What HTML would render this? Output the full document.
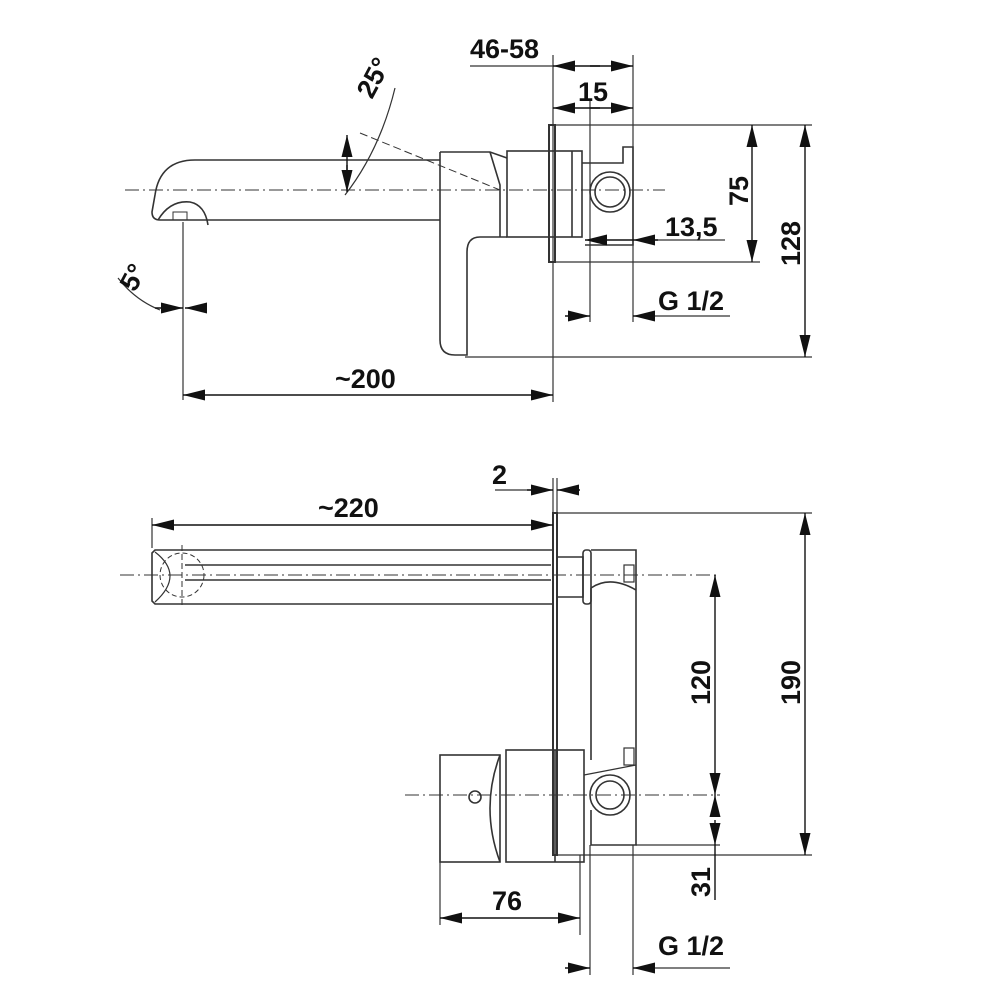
<!DOCTYPE html>
<html><head><meta charset="utf-8"><style>
html,body{margin:0;padding:0;background:#fff;}
svg{display:block}
text{font-family:"Liberation Sans",sans-serif;font-size:27px;fill:#111;font-weight:bold}
</style></head><body>
<svg width="1000" height="1000" viewBox="0 0 1000 1000">
<defs>
<marker id="a" viewBox="0 0 20 10" refX="20" refY="5" markerWidth="22" markerHeight="11" markerUnits="userSpaceOnUse" orient="auto"><path d="M0,0 L20,5 L0,10 z" fill="#111"/></marker>
</defs>
<g fill="none" stroke="#333" stroke-width="1.6">
<line x1="125" y1="190" x2="665" y2="190" stroke-dasharray="14,4,2,4" stroke-width="1"/>
<path d="M440,160 L195,160 Q160,160 155,195 L152,212 Q152,220 160,220 L440,220"/>
<path d="M158,220 Q170,200 190,202 Q205,205 208,225" />
<rect x="173" y="212" width="14" height="8" stroke-width="1"/>
<path d="M440,152 L440,340 Q440,355 455,355 L467,355 L467,252 Q467,237 480,237 L507,237"/>
<path d="M440,152 L490,152 L507,158"/>
<path d="M490,152 L500,185 L500,237"/>
<rect x="507" y="151" width="75" height="86"/>
<line x1="572" y1="151" x2="572" y2="237"/>
<rect x="549" y="125" width="6" height="137" stroke-width="2"/>
<path d="M582,163 L623,163 L623,147 L633,147 L633,245 L585,245"/>
<circle cx="610" cy="192" r="20"/><circle cx="610" cy="192" r="15"/>
<line x1="360" y1="133" x2="500" y2="190" stroke-dasharray="8,4" stroke-width="1"/>
<path d="M395,88 Q380,150 345,195" stroke-width="1.2"/>
<line x1="183" y1="222" x2="183" y2="400" stroke-width="1.2"/>
<path d="M118,278 Q135,300 160,310" stroke-width="1.2"/>
<g stroke-width="1.2">
<line x1="553" y1="55" x2="553" y2="402"/>
<line x1="633" y1="55" x2="633" y2="322"/>
<line x1="590" y1="100" x2="590" y2="322"/>
<line x1="556" y1="125" x2="812" y2="125"/>
<line x1="556" y1="262" x2="760" y2="262"/>
<line x1="465" y1="357" x2="812" y2="357"/>
<line x1="470" y1="66" x2="553" y2="66"/>
<line x1="655" y1="240" x2="725" y2="240"/>
<line x1="655" y1="316" x2="730" y2="316"/>
</g>
</g>
<g stroke="#111" stroke-width="1.4" fill="none">
<line x1="600" y1="66" x2="553" y2="66" marker-end="url(#a)"/>
<line x1="590" y1="66" x2="633" y2="66" marker-end="url(#a)"/>
<line x1="600" y1="108" x2="553" y2="108" marker-end="url(#a)"/>
<line x1="590" y1="108" x2="633" y2="108" marker-end="url(#a)"/>
<line x1="752" y1="190" x2="752" y2="125" marker-end="url(#a)"/>
<line x1="752" y1="190" x2="752" y2="262" marker-end="url(#a)"/>
<line x1="805" y1="240" x2="805" y2="125" marker-end="url(#a)"/>
<line x1="805" y1="240" x2="805" y2="357" marker-end="url(#a)"/>
<line x1="633" y1="240" x2="585" y2="240" marker-end="url(#a)"/>
<line x1="658" y1="240" x2="633" y2="240" marker-end="url(#a)"/>
<line x1="565" y1="316" x2="590" y2="316" marker-end="url(#a)"/>
<line x1="655" y1="316" x2="633" y2="316" marker-end="url(#a)"/>
<line x1="370" y1="395" x2="183" y2="395" marker-end="url(#a)"/>
<line x1="370" y1="395" x2="553" y2="395" marker-end="url(#a)"/>
<line x1="155" y1="308" x2="183" y2="308" marker-end="url(#a)"/>
<line x1="207" y1="308" x2="185" y2="308" marker-end="url(#a)"/>
<line x1="347" y1="175" x2="347" y2="135" marker-end="url(#a)"/>
<line x1="347" y1="165" x2="347" y2="192" marker-end="url(#a)"/>
</g>
<text x="470" y="58">46-58</text>
<text x="578" y="101">15</text>
<text x="665" y="236">13,5</text>
<text x="658" y="310">G 1/2</text>
<text x="335" y="388">~200</text>
<text transform="translate(748,206) rotate(-90)">75</text>
<text transform="translate(800,266) rotate(-90)">128</text>
<text transform="translate(372,100) rotate(-62)">25°</text>
<text transform="translate(135,293) rotate(-62)">5°</text>

<g fill="none" stroke="#333" stroke-width="1.6">
<line x1="120" y1="575" x2="720" y2="575" stroke-dasharray="14,4,2,4" stroke-width="1"/>
<line x1="405" y1="795" x2="720" y2="795" stroke-dasharray="14,4,2,4" stroke-width="1"/>
<path d="M553,550 L155,550 L152,553 L152,601 L155,604 L553,604"/>
<line x1="185" y1="565" x2="551" y2="565"/><line x1="185" y1="580" x2="551" y2="580"/>
<path d="M155,552 Q185,575 155,602" stroke-width="1.2"/>
<circle cx="182" cy="575" r="22" stroke-dasharray="5,3" stroke-width="1"/>
<line x1="182" y1="545" x2="182" y2="605" stroke-dasharray="6,3" stroke-width="1"/>
<rect x="553" y="513" width="4" height="342" stroke-width="2"/>
<path d="M557,557 L583,557 L583,597 L557,597"/>
<rect x="583" y="550" width="8" height="54" rx="3"/>
<path d="M591,588 L591,760 M636,588 L636,845 L591,845 L591,810 M591,588 Q610,575 636,590 M591,550 L636,550 L636,590"/>
<rect x="624" y="565" width="10" height="17" stroke-width="1.2"/>
<rect x="624" y="748" width="10" height="17" stroke-width="1.2"/>
<rect x="440" y="755" width="60" height="107"/>
<path d="M500,755 Q480,808 500,862"/>
<rect x="506" y="750" width="78" height="112"/>
<line x1="555" y1="750" x2="555" y2="862"/>
<circle cx="610" cy="795" r="20"/><circle cx="610" cy="795" r="14"/>
<path d="M584,775 Q610,770 636,765" stroke-width="1.2"/>
<circle cx="475" cy="797" r="6"/>
<g stroke-width="1.2">
<line x1="553" y1="478" x2="553" y2="513"/>
<line x1="557" y1="478" x2="557" y2="513"/>
<line x1="495" y1="490" x2="540" y2="490"/>
<line x1="152" y1="518" x2="152" y2="548"/>
<line x1="557" y1="513" x2="812" y2="513"/>
<line x1="557" y1="855" x2="812" y2="855"/>
<line x1="636" y1="845" x2="720" y2="845"/>
<line x1="440" y1="840" x2="440" y2="925"/>
<line x1="580" y1="855" x2="580" y2="935"/>
<line x1="590" y1="845" x2="590" y2="975"/>
<line x1="633" y1="845" x2="633" y2="975"/>
<line x1="655" y1="968" x2="730" y2="968"/>
</g>
</g>
<g stroke="#111" stroke-width="1.4" fill="none">
<line x1="527" y1="490" x2="553" y2="490" marker-end="url(#a)"/>
<line x1="580" y1="490" x2="557" y2="490" marker-end="url(#a)"/>
<line x1="352" y1="525" x2="152" y2="525" marker-end="url(#a)"/>
<line x1="352" y1="525" x2="553" y2="525" marker-end="url(#a)"/>
<line x1="715" y1="685" x2="715" y2="575" marker-end="url(#a)"/>
<line x1="715" y1="685" x2="715" y2="795" marker-end="url(#a)"/>
<line x1="715" y1="815" x2="715" y2="795" marker-end="url(#a)"/>
<line x1="715" y1="820" x2="715" y2="845" marker-end="url(#a)"/>
<line x1="715" y1="845" x2="715" y2="900"/>
<line x1="805" y1="685" x2="805" y2="513" marker-end="url(#a)"/>
<line x1="805" y1="685" x2="805" y2="855" marker-end="url(#a)"/>
<line x1="510" y1="918" x2="440" y2="918" marker-end="url(#a)"/>
<line x1="510" y1="918" x2="580" y2="918" marker-end="url(#a)"/>
<line x1="565" y1="968" x2="590" y2="968" marker-end="url(#a)"/>
<line x1="655" y1="968" x2="633" y2="968" marker-end="url(#a)"/>
</g>
<text x="492" y="484">2</text>
<text x="318" y="517">~220</text>
<text x="492" y="910">76</text>
<text x="658" y="955">G 1/2</text>
<text transform="translate(710,705) rotate(-90)">120</text>
<text transform="translate(710,897) rotate(-90)">31</text>
<text transform="translate(800,705) rotate(-90)">190</text>
</svg>
</body></html>
